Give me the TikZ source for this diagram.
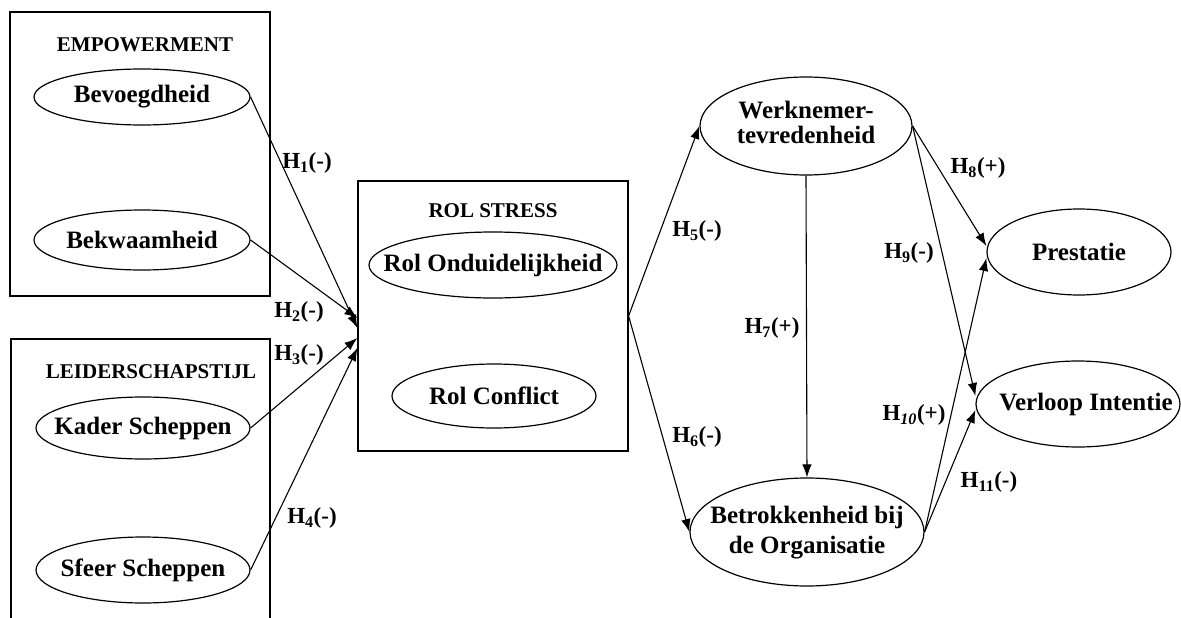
\documentclass[tikz,border=0pt]{standalone}
\usepackage{fontspec}
\setmainfont{Liberation Serif}
\usetikzlibrary{shapes.geometric,arrows.meta,calc}
\newcommand\labfont{\fontsize{25}{27}\selectfont\bfseries}
\newcommand\headfont{\fontsize{21}{23}\selectfont\bfseries}
\newcommand\hypfont{\fontsize{23}{25}\selectfont\bfseries}
\newcommand\zb[1]{\makebox[0pt]{#1}}
\tikzset{
  ell/.style={draw, ellipse, inner sep=0pt, line width=1.2pt, font=\labfont},
  boxc/.style={draw, rectangle, inner sep=0pt, line width=1.2pt},
  head/.style={inner sep=0pt, font=\headfont},
  hyp/.style={inner sep=0pt, font=\hypfont},
  arr/.style={-{Latex[length=13pt,width=9.5pt]}, line width=1.1pt},
}
\begin{document}
\begin{tikzpicture}[x=1pt,y=-1pt]
\useasboundingbox (0,0) rectangle (1181,618);
% boxes
\node[boxc, minimum width=260pt, minimum height=284pt] (empbox) at (140,154) {};
\node[boxc, minimum width=259pt, minimum height=301pt] (leadbox) at (140.5,489.5) {};
\node[boxc, minimum width=270pt, minimum height=270pt] (rolbox) at (493,316) {};
% headings
\node[head] (emph) at (145,45) {EMPOWERMENT};
\node[head] (leadh) at (151,372) {LEIDERSCHAPSTIJL};
\node[head] (rolh) at (493,211) {ROL STRESS};
% ellipses
\node[ell, minimum width=216pt, minimum height=56pt] (bev) at (142,97) {\zb{Bevoegdheid}};
\node[ell, minimum width=216pt, minimum height=60pt] (bek) at (142,240) {\zb{Bekwaamheid}};
\node[ell, minimum width=214pt, minimum height=62pt] (kad) at (143,428) {\zb{Kader Scheppen}};
\node[ell, minimum width=214pt, minimum height=66pt] (sfe) at (143,570) {\zb{Sfeer Scheppen}};
\node[ell, minimum width=248pt, minimum height=66pt] (ond) at (493,265) {\zb{Rol Onduidelijkheid}};
\node[ell, minimum width=204pt, minimum height=64pt] (con) at (494,396) {\zb{Rol Conflict}};
\node[ell, minimum width=212pt, minimum height=98pt] (werk) at (806,126)
  {\zb{\fontsize{25}{25}\selectfont\begin{tabular}{@{}c@{}}Werknemer-\\tevredenheid\end{tabular}}};
\node[ell, minimum width=234pt, minimum height=108pt] (betr) at (807,532)
  {\zb{\fontsize{25}{30}\selectfont\begin{tabular}{@{}c@{}}Betrokkenheid bij\\de Organisatie\end{tabular}}};
\node[ell, minimum width=184pt, minimum height=86pt] (pres) at (1079,252) {\zb{Prestatie}};
\node[ell, minimum width=204pt, minimum height=86pt] (verl) at (1078,404) {\zb{\hspace*{16pt}Verloop Intentie}};
% end points on the role stress box and targets
\coordinate (r1) at ([yshift=-2pt]rolbox.west);
\coordinate (r2) at ([yshift=-12pt]rolbox.west);
\coordinate (r3) at ([yshift=-22pt]rolbox.west);
\coordinate (r4) at ([yshift=-32pt]rolbox.west);
\coordinate (p1) at ([yshift=6pt]pres.west);
\coordinate (p2) at ([yshift=-6pt]pres.west);
\coordinate (v1) at ([yshift=8pt]verl.west);
\coordinate (v2) at ([yshift=-6pt]verl.west);
% connectors
\draw[arr] (bek.east) -- (r1);
\draw[arr] (bev.east) -- (r2);
\draw[arr] (kad.east) -- (r3);
\draw[arr] (sfe.east) -- (r4);
\draw[arr] (rolbox.east) -- (werk.west);
\draw[arr] (rolbox.east) -- (betr.west);
\draw[arr] (werk.south) -- (betr.north);
\draw[arr] (werk.east) -- (p1);
\draw[arr] (werk.east) -- (v1);
\draw[arr] (betr.east) -- (p2);
\draw[arr] (betr.east) -- (v2);
% hypothesis labels
\node[hyp] (h1) at (307,163) {H\textsubscript{1}(-)};
\node[hyp] (h2) at (299,312) {H\textsubscript{2}(-)};
\node[hyp] (h3) at (299,355) {H\textsubscript{3}(-)};
\node[hyp] (h4) at (312,518) {H\textsubscript{4}(-)};
\node[hyp] (h5) at (697,231) {H\textsubscript{5}(-)};
\node[hyp] (h6) at (697,437) {H\textsubscript{6}(-)};
\node[hyp] (h7) at (772,328) {H\textsubscript{7}(+)};
\node[hyp] (h8) at (978,168) {H\textsubscript{8}(+)};
\node[hyp] (h9) at (909,253) {H\textsubscript{9}(-)};
\node[hyp] (h10) at (914,415) {H\textsubscript{\textit{10}}(+)};
\node[hyp] (h11) at (989,482) {H\textsubscript{11}(-)};
\end{tikzpicture}
\end{document}
